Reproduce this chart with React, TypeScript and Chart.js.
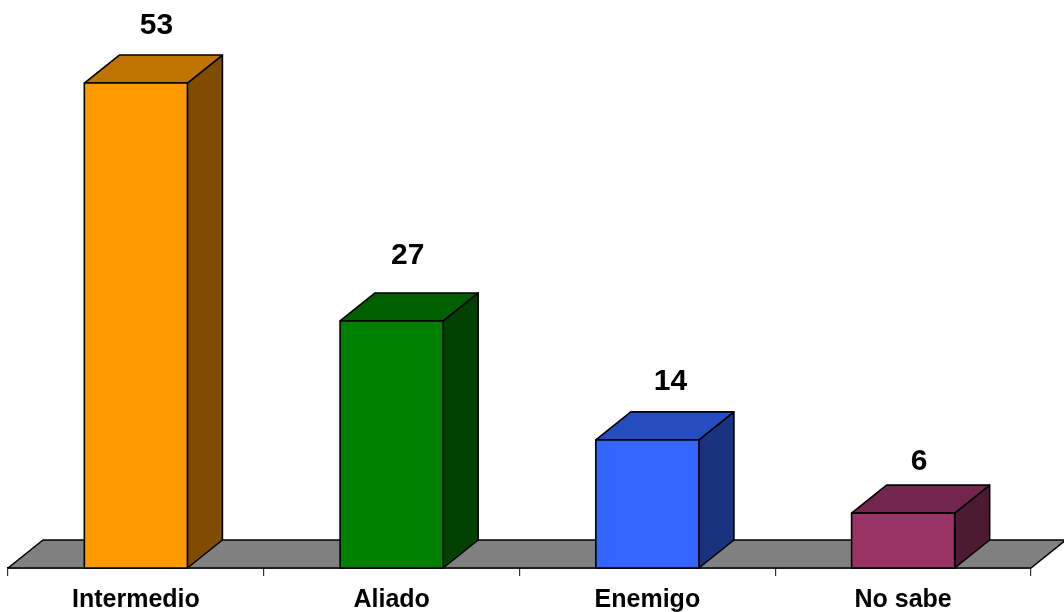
import React, { useEffect, useRef } from "react";
import { Chart, registerables } from "chart.js";

Chart.register(...registerables);

const categories = ["Intermedio", "Aliado", "Enemigo", "No sabe"];
const values = [53, 27, 14, 6];
const frontColors = ["#FF9900", "#008000", "#3366FF", "#993366"];
const topColors = ["#BF7300", "#006000", "#264DBF", "#73264D"];
const sideColors = ["#804D00", "#004000", "#1A3380", "#4D1A33"];

const DEPTH_X = 35;
const DEPTH_Y = 28;
const FONT = '"Liberation Sans", Arial, sans-serif';
// hand-placed value labels: nudge from the bar's centre and top, in pixels
const labelNudgeX = [20.5, 16, 23, 16];
const labelNudgeY = [-49, -57, -50, -43];

function poly(ctx: CanvasRenderingContext2D, pts: number[][], fill: string) {
  ctx.beginPath();
  pts.forEach(([x, y], i) => (i ? ctx.lineTo(x, y) : ctx.moveTo(x, y)));
  ctx.closePath();
  ctx.fillStyle = fill;
  ctx.fill();
  ctx.lineWidth = 1.6;
  ctx.strokeStyle = "#000";
  ctx.lineJoin = "round";
  ctx.stroke();
}

const floorPlugin = {
  id: "floor3d",
  beforeDatasetsDraw(chart: any) {
    const { ctx, chartArea: a } = chart;
    ctx.save();
    poly(
      ctx,
      [
        [a.left, a.bottom],
        [a.left + DEPTH_X, a.bottom - DEPTH_Y],
        [a.right + DEPTH_X, a.bottom - DEPTH_Y],
        [a.right, a.bottom],
      ],
      "#808080"
    );
    ctx.restore();
  },
};

const bar3dPlugin = {
  id: "bar3d",
  afterDatasetsDraw(chart: any) {
    const { ctx } = chart;
    const meta = chart.getDatasetMeta(0);
    ctx.save();
    meta.data.forEach((bar: any, i: number) => {
      const l = bar.x - bar.width / 2;
      const r = bar.x + bar.width / 2;
      const t = bar.y;
      const b = bar.base;
      poly(ctx, [[r, t], [r + DEPTH_X, t - DEPTH_Y], [r + DEPTH_X, b - DEPTH_Y], [r, b]], sideColors[i]);
      poly(ctx, [[l, t], [l + DEPTH_X, t - DEPTH_Y], [r + DEPTH_X, t - DEPTH_Y], [r, t]], topColors[i]);
      poly(ctx, [[l, t], [r, t], [r, b], [l, b]], frontColors[i]);
      ctx.fillStyle = "#000";
      ctx.font = `bold 30px ${FONT}`;
      ctx.textAlign = "center";
      ctx.textBaseline = "alphabetic";
      ctx.fillText(String(values[i]), bar.x + labelNudgeX[i], t + labelNudgeY[i]);
    });
    ctx.restore();
  },
};

export default function App() {
  const ref = useRef<HTMLCanvasElement>(null);
  useEffect(() => {
    const chart = new Chart(ref.current as HTMLCanvasElement, {
      type: "bar",
      data: {
        labels: categories,
        datasets: [
          {
            data: values,
            backgroundColor: frontColors,
            barPercentage: 0.403,
            categoryPercentage: 1,
          },
        ],
      },
      plugins: [floorPlugin, bar3dPlugin],
      options: {
        responsive: false,
        animation: false,
        layout: { padding: { left: 8, right: 33, top: 19, bottom: 0 } },
        plugins: { legend: { display: false }, tooltip: { enabled: false } },
        scales: {
          x: {
            afterFit(scale: any) {
              scale.height = 44;
            },
            border: { color: "#000", width: 1.6 },
            grid: {
              display: true,
              drawOnChartArea: false,
              drawTicks: true,
              tickLength: 8,
              color: "#333",
              lineWidth: 1.2,
              offset: true,
            },
            ticks: {
              color: "#000",
              padding: 9,
              maxRotation: 0,
              font: { family: FONT, size: 25, weight: "bold" },
            },
          },
          y: { display: false, min: 0, max: 60 },
        },
      },
    } as any);
    return () => chart.destroy();
  }, []);
  return (
    <div style={{ position: "fixed", left: 0, top: 0, width: 1064, height: 612, background: "#fff" }}>
      <canvas ref={ref} width={1064} height={612} style={{ display: "block" }} />
    </div>
  );
}
